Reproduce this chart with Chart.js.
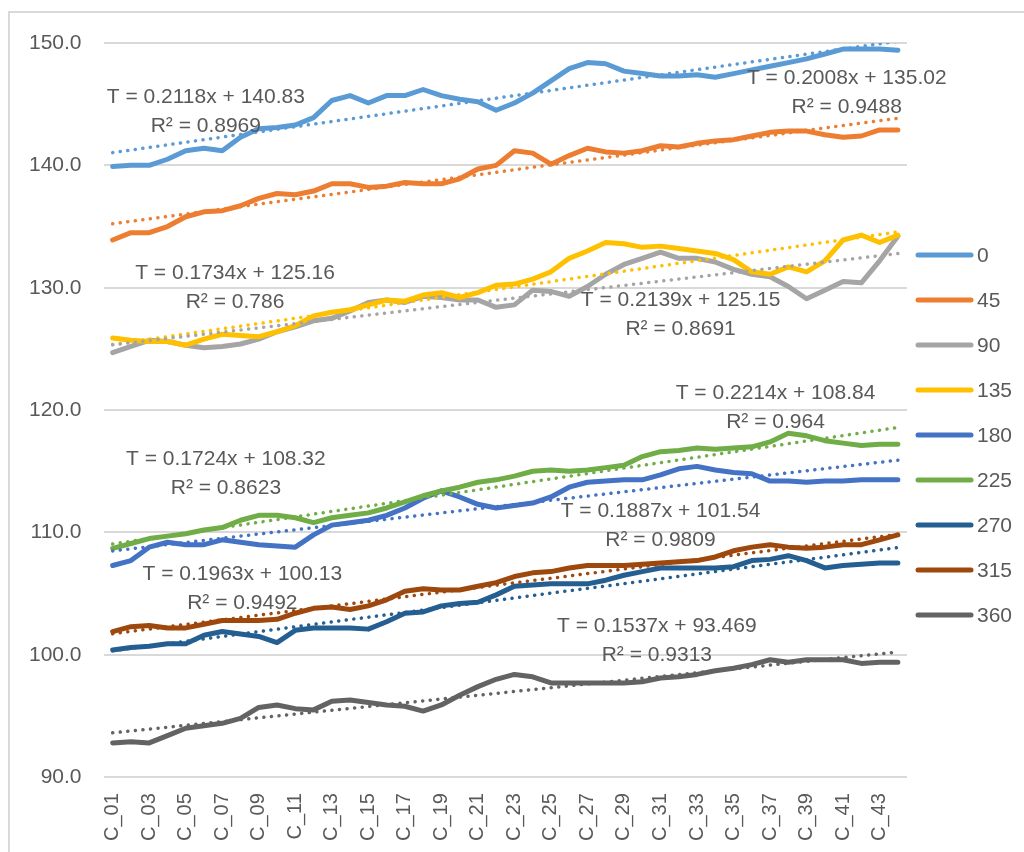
<!DOCTYPE html>
<html>
<head>
<meta charset="utf-8">
<script src="https://cdn.jsdelivr.net/npm/chart.js@4.4.1/dist/chart.umd.min.js"></script>
<style>
  html, body { margin: 0; padding: 0; background: #fff; overflow: hidden; }
  #wrap { position: relative; width: 1024px; height: 852px; }
  #frame { position: absolute; left: 8px; top: 11px; width: 1100px; height: 900px; border: 2px solid #d9d9d9; box-sizing: border-box; }
  #chart { position: absolute; left: 0; top: 0; }
</style>
</head>
<body>
<div id="wrap">
  <div id="frame"></div>
  <canvas id="chart" width="1024" height="852"></canvas>
</div>
<script>
(function () {
  "use strict";

  const categories = Array.from({ length: 44 }, (_, i) => "C_" + String(i + 1).padStart(2, "0"));

  const seriesNames = ["0", "45", "90", "135", "180", "225", "270", "315", "360"];
  const seriesColors = ["#5B9BD5", "#ED7D31", "#A5A5A5", "#FFC000", "#4472C4", "#70AD47", "#255E91", "#9E480E", "#636363"];

  const s0 = [139.9, 140.0, 140.0, 140.5, 141.2, 141.4, 141.2, 142.3, 143.0, 143.1,
    143.3, 143.9, 145.3, 145.7, 145.1, 145.7, 145.7, 146.2, 145.7, 145.4,
    145.2, 144.5, 145.1, 145.9, 146.9, 147.9, 148.4, 148.3, 147.7, 147.5,
    147.3, 147.3, 147.4, 147.2, 147.5, 147.8, 148.1, 148.4, 148.7, 149.1,
    149.5, 149.5, 149.5, 149.4];
  const s45 = [133.9, 134.5, 134.5, 135.0, 135.8, 136.2, 136.3, 136.7, 137.3, 137.7,
    137.6, 137.9, 138.5, 138.5, 138.2, 138.3, 138.6, 138.5, 138.5, 138.9,
    139.7, 140.0, 141.2, 141.0, 140.1, 140.8, 141.4, 141.1, 141.0, 141.2,
    141.6, 141.5, 141.8, 142.0, 142.1, 142.4, 142.7, 142.8, 142.8, 142.5,
    142.3, 142.4, 142.9, 142.9];
  const s90 = [124.7, 125.2, 125.7, 125.6, 125.3, 125.1, 125.2, 125.4, 125.8, 126.4,
    126.8, 127.3, 127.5, 128.1, 128.8, 129.0, 128.8, 129.3, 129.2, 129.0,
    129.0, 128.4, 128.6, 129.8, 129.7, 129.3, 130.1, 131.1, 131.9, 132.4,
    132.9, 132.4, 132.4, 132.1, 131.5, 131.1, 130.9, 130.1, 129.1, 129.8,
    130.5, 130.4, 132.2, 134.2];
  const s135 = [125.9, 125.7, 125.6, 125.6, 125.3, 125.8, 126.2, 126.1, 126.0, 126.4,
    126.9, 127.7, 128.0, 128.2, 128.6, 129.0, 128.9, 129.4, 129.6, 129.2,
    129.6, 130.2, 130.3, 130.7, 131.3, 132.4, 133.0, 133.7, 133.6, 133.3,
    133.4, 133.2, 133.0, 132.8, 132.3, 131.3, 131.1, 131.7, 131.3, 132.2,
    133.9, 134.3, 133.7, 134.3];
  const s180 = [107.3, 107.7, 108.8, 109.2, 109.0, 109.0, 109.4, 109.2, 109.0, 108.9,
    108.8, 109.8, 110.6, 110.8, 111.0, 111.4, 112.0, 112.8, 113.4, 112.9,
    112.3, 112.0, 112.2, 112.4, 112.9, 113.7, 114.1, 114.2, 114.3, 114.3,
    114.7, 115.2, 115.4, 115.1, 114.9, 114.8, 114.2, 114.2, 114.1, 114.2,
    114.2, 114.3, 114.3, 114.3];
  const s225 = [108.7, 109.1, 109.5, 109.7, 109.9, 110.2, 110.4, 111.0, 111.4, 111.4,
    111.2, 110.8, 111.2, 111.4, 111.6, 112.0, 112.5, 113.0, 113.4, 113.7,
    114.1, 114.3, 114.6, 115.0, 115.1, 115.0, 115.1, 115.3, 115.5, 116.2,
    116.6, 116.7, 116.9, 116.8, 116.9, 117.0, 117.4, 118.1, 117.9, 117.5,
    117.3, 117.1, 117.2, 117.2];
  const s270 = [100.4, 100.6, 100.7, 100.9, 100.9, 101.6, 101.9, 101.7, 101.5, 101.0,
    102.0, 102.2, 102.2, 102.2, 102.1, 102.7, 103.4, 103.5, 104.0, 104.2,
    104.3, 104.9, 105.6, 105.7, 105.8, 105.8, 105.8, 106.1, 106.5, 106.8,
    107.1, 107.1, 107.1, 107.1, 107.2, 107.7, 107.8, 108.1, 107.7, 107.1,
    107.3, 107.4, 107.5, 107.5];
  const s315 = [101.9, 102.3, 102.4, 102.2, 102.2, 102.5, 102.8, 102.8, 102.8, 102.9,
    103.4, 103.8, 103.9, 103.7, 104.0, 104.5, 105.2, 105.4, 105.3, 105.3,
    105.6, 105.9, 106.4, 106.7, 106.8, 107.1, 107.3, 107.3, 107.3, 107.4,
    107.5, 107.6, 107.7, 108.0, 108.5, 108.8, 109.0, 108.8, 108.7, 108.8,
    109.0, 109.0, 109.4, 109.8];
  const s360 = [92.8, 92.9, 92.8, 93.4, 94.0, 94.2, 94.4, 94.8, 95.7, 95.9,
    95.6, 95.5, 96.2, 96.3, 96.1, 95.9, 95.8, 95.4, 95.9, 96.7,
    97.4, 98.0, 98.4, 98.2, 97.7, 97.7, 97.7, 97.7, 97.7, 97.8,
    98.1, 98.2, 98.4, 98.7, 98.9, 99.2, 99.6, 99.4, 99.6, 99.6,
    99.6, 99.3, 99.4, 99.4];
  const seriesValues = [s0, s45, s90, s135, s180, s225, s270, s315, s360];

  // trendline equations as printed on the chart (x = 1..44)
  const trendSlopes = ["0.2118", "0.2008", "0.1734", "0.2139", "0.1724", "0.2214", "0.1963", "0.1887", "0.1537"];
  const trendIntercepts = ["140.83", "135.02", "125.16", "125.15", "108.32", "108.84", "100.13", "101.54", "93.469"];
  const trendR2 = ["0.8969", "0.9488", "0.786", "0.8691", "0.8623", "0.964", "0.9492", "0.9809", "0.9313"];

  // where each equation label sits (category index, value)
  const labelAtIndex = [5.1, 40.2, 6.7, 31.1, 6.2, 36.3, 7.1, 30.0, 29.8];
  const labelAtValue = [145.6, 147.1, 131.2, 129.0, 116.0, 121.4, 106.6, 111.7, 102.3];

  const yTicks = [90, 100, 110, 120, 130, 140, 150];

  const FONT = "'Liberation Sans', Arial, sans-serif";
  const TEXT = "#595959";

  const mainSets = seriesValues.map((values, i) => ({
    label: seriesNames[i],
    data: values,
    borderColor: seriesColors[i],
    backgroundColor: seriesColors[i],
    borderWidth: 5,
    borderCapStyle: "round",
    borderJoinStyle: "round",
    pointRadius: 0,
    pointHoverRadius: 0,
    tension: 0,
    fill: false,
    order: 100 - i
  }));

  const trendSets = seriesValues.map((values, i) => {
    const m = Number(trendSlopes[i]);
    const b = Number(trendIntercepts[i]);
    return {
      label: "trend " + seriesNames[i],
      data: categories.map((_, k) => m * (k + 1) + b),
      borderColor: seriesColors[i],
      borderWidth: 3.5,
      borderDash: [0.1, 7.5],
      borderCapStyle: "round",
      pointRadius: 0,
      pointHoverRadius: 0,
      fill: false,
      order: 0
    };
  });

  const equationLabels = {
    id: "equationLabels",
    afterDatasetsDraw(chart) {
      const ctx = chart.ctx;
      const xs = chart.scales.x;
      const ys = chart.scales.y;
      ctx.save();
      ctx.font = "21px " + FONT;
      ctx.fillStyle = TEXT;
      ctx.textAlign = "center";
      ctx.textBaseline = "middle";
      trendSlopes.forEach((m, i) => {
        const px = xs.getPixelForValue(labelAtIndex[i]);
        const py = ys.getPixelForValue(labelAtValue[i]);
        ctx.fillText("T = " + m + "x + " + trendIntercepts[i], px, py);
        ctx.fillText("R\u00B2 = " + trendR2[i], px, py + 29);
      });
      ctx.restore();
    }
  };

  // legend drawn beside the plot: short line + series name, main series only
  const sideLegend = {
    id: "sideLegend",
    afterDraw(chart) {
      const ctx = chart.ctx;
      const x0 = chart.chartArea.right + 11;
      const midY = chart.height / 2 + 9;
      const step = 45;
      ctx.save();
      ctx.font = "21px " + FONT;
      ctx.textAlign = "left";
      ctx.textBaseline = "middle";
      seriesNames.forEach((name, i) => {
        const y = midY + (i - (seriesNames.length - 1) / 2) * step;
        ctx.strokeStyle = seriesColors[i];
        ctx.lineWidth = 5;
        ctx.lineCap = "round";
        ctx.beginPath();
        ctx.moveTo(x0, y);
        ctx.lineTo(x0 + 53, y);
        ctx.stroke();
        ctx.fillStyle = TEXT;
        ctx.fillText(name, x0 + 59, y + 1);
      });
      ctx.restore();
    }
  };

  new Chart(document.getElementById("chart"), {
    type: "line",
    data: {
      labels: categories,
      datasets: mainSets.concat(trendSets)
    },
    plugins: [equationLabels, sideLegend],
    options: {
      responsive: false,
      animation: false,
      events: [],
      layout: {
        padding: { left: 7, right: 117, top: 43, bottom: -5 }
      },
      plugins: {
        tooltip: { enabled: false },
        legend: { display: false }
      },
      scales: {
        x: {
          offset: true,
          grid: { display: false, drawTicks: false },
          border: { display: false },
          ticks: {
            autoSkip: false,
            minRotation: 90,
            maxRotation: 90,
            padding: 16,
            color: TEXT,
            font: { family: FONT, size: 20 },
            callback: function (value, index) {
              return index % 2 === 0 ? this.getLabelForValue(value) : "";
            }
          }
        },
        y: {
          min: 90,
          max: 150,
          afterBuildTicks: (scale) => {
            scale.ticks = yTicks.map((v) => ({ value: v }));
          },
          grid: { color: "#d9d9d9", lineWidth: 2, drawTicks: false },
          border: { display: false },
          ticks: {
            padding: 22,
            color: TEXT,
            font: { family: FONT, size: 21 },
            callback: (value) => Number(value).toFixed(1)
          }
        }
      }
    }
  });
})();
</script>
</body>
</html>
